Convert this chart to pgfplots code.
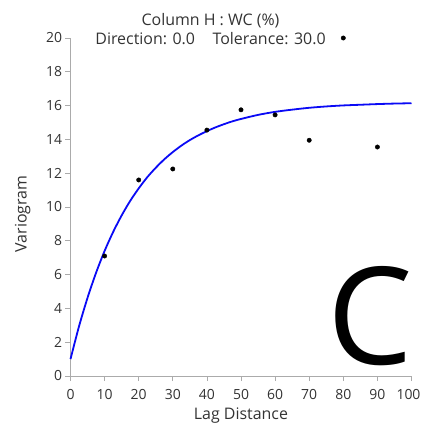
\documentclass[border=0pt]{standalone}
\usepackage{fontspec}
\setmainfont{Open Sans}
\usepackage{pgfplots}
\pgfplotsset{compat=1.18}

\definecolor{txt}{HTML}{333333}
\definecolor{axline}{HTML}{ABABAB}
\definecolor{fitblue}{HTML}{0A0AF5}

% experimental semivariogram (lag, gamma)
\pgfplotstableread{
lag gamma
10 7.10
20 11.60
30 12.25
40 14.55
50 15.75
60 15.45
70 13.95
80 20.00
90 13.55
}\experimental

% fitted model, sampled along the lag axis
\pgfplotstableread{
lag gamma
0 1.00
2.5 2.94
5 4.63
7.5 6.11
10 7.40
12.5 8.52
15 9.50
17.5 10.36
20 11.10
22.5 11.76
25 12.32
27.5 12.82
30 13.25
32.5 13.63
35 13.96
37.5 14.24
40 14.49
42.5 14.71
45 14.90
47.5 15.07
50 15.21
55 15.45
60 15.63
65 15.76
70 15.87
75 15.95
80 16.01
85 16.05
90 16.09
95 16.12
100 16.14
}\model

\begin{document}
\begin{tikzpicture}
\begin{axis}[
  scale only axis,
  width=341bp, height=338bp,
  xmin=0, xmax=100, ymin=0, ymax=20,
  axis lines*=left,
  axis line style={draw=axline, line width=0.8bp, -},
  xtick={0,10,...,100},
  xticklabels={0,10,20,30,40,50,60,70,80,90,\hspace*{-6bp}100},
  ytick={0,2,...,20},
  tick align=outside,
  major tick length=5bp,
  tick style={draw=axline, line width=0.8bp},
  /pgf/number format/assume math mode=true,
  tick label style={font=\fontsize{14}{16}\selectfont, text=txt},
  xticklabel style={inner sep=1bp, yshift=-7.5bp},
  xlabel={Lag Distance},
  ylabel={Variogram},
  label style={font=\fontsize{16}{18}\selectfont, text=txt},
  xlabel style={at={(axis description cs:0.5,0)}, anchor=base, yshift=-43bp},
  ylabel style={at={(axis description cs:-0.129,0.479)}, anchor=base},
  clip=false,
]
\coordinate (o) at (rel axis cs:0,0);

\addplot[fitblue, line width=1.8bp, smooth] table[x=lag, y=gamma] {\model};
\addplot[only marks, mark=*, mark size=2.2bp, black] table[x=lag, y=gamma] {\experimental};

\node[anchor=base, font=\fontsize{16}{18}\selectfont, text=txt]
  at (axis cs:41.06,20.71) {Column H : WC (\%)};
\node[anchor=base, font=\fontsize{16}{18}\selectfont, text=txt]
  at (axis cs:41.06,19.64) {Direction: 0.0\hspace{1.1em}Tolerance: 30.0};

\node[font=\fontsize{136}{136}\selectfont, inner sep=0pt, anchor=center]
  at (axis cs:87.8,3.55) {C};
\end{axis}
\pgfresetboundingbox
\path[use as bounding box] (o) ++(-70.5bp,-50bp) rectangle ++(421bp,426bp);
\end{tikzpicture}
\end{document}
